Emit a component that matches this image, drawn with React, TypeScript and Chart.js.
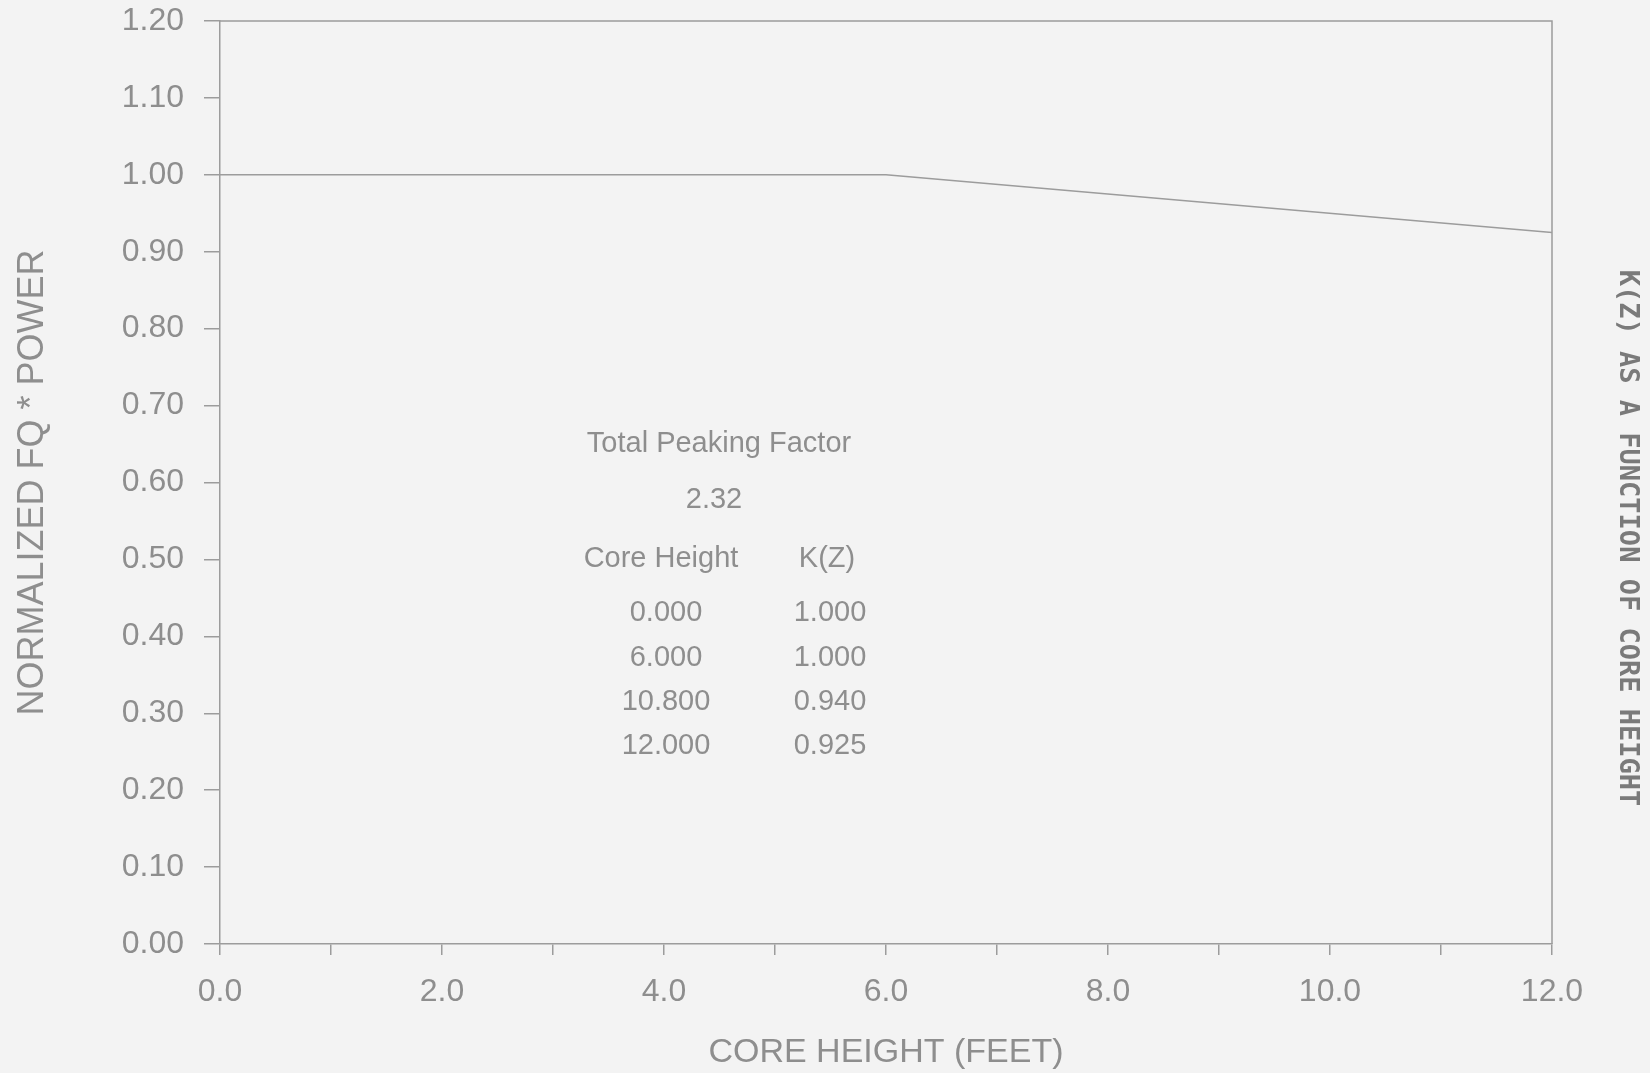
import React, { useEffect, useRef } from "react";
import { Chart, registerables } from "chart.js";

Chart.register(...registerables);

// Data
const coreHeights = [0.0, 6.0, 10.8, 12.0];
const kzValues = [1.0, 1.0, 0.94, 0.925];
const totalPeakingFactor = "2.32";
const xTitle = "CORE HEIGHT (FEET)";
const yTitle = "NORMALIZED FQ * POWER";
const sideTitle = "K(Z) AS A FUNCTION OF CORE HEIGHT";
const tableHeaders = ["Core Height", "K(Z)"];
const tableCoreHeights = ["0.000", "6.000", "10.800", "12.000"];
const tableKz = ["1.000", "1.000", "0.940", "0.925"];

const BG = "#f3f3f3";
const TEXT = "#8e8e8e";
const LINE = "#9c9c9c";
const FONT = "'Liberation Sans', Arial, sans-serif";

const overlayPlugin = {
  id: "overlay",
  beforeDraw(chart: any) {
    const { ctx } = chart;
    ctx.save();
    ctx.fillStyle = BG;
    ctx.fillRect(0, 0, chart.width, chart.height);
    ctx.restore();
  },
  afterDraw(chart: any) {
    const { ctx, chartArea } = chart;
    const { left, right, top, bottom } = chartArea;
    ctx.save();
    // frame
    ctx.strokeStyle = LINE;
    ctx.lineWidth = 1.5;
    ctx.beginPath();
    ctx.moveTo(left, top);
    ctx.lineTo(right, top);
    ctx.lineTo(right, bottom);
    ctx.stroke();

    // side title
    ctx.save();
    ctx.translate(1627, 538);
    ctx.rotate(Math.PI / 2);
    ctx.fillStyle = "#7a7a7a";
    ctx.font = "bold 27px 'DejaVu Sans Mono', 'Liberation Mono', monospace";
    ctx.textAlign = "center";
    ctx.textBaseline = "middle";
    ctx.fillText(sideTitle, 0, 0);
    ctx.restore();

    // table annotation
    ctx.fillStyle = TEXT;
    ctx.font = `29px ${FONT}`;
    ctx.textAlign = "center";
    ctx.textBaseline = "middle";
    ctx.fillText("Total Peaking Factor", 719, 444);
    ctx.fillText(totalPeakingFactor, 714, 500);
    ctx.fillText(tableHeaders[0], 661, 559);
    ctx.fillText(tableHeaders[1], 827, 559);
    const rowY = [613, 658, 702, 746];
    tableCoreHeights.forEach((t, i) => {
      ctx.fillText(t, 666, rowY[i]);
      ctx.fillText(tableKz[i], 830, rowY[i]);
    });
    ctx.restore();
  },
};

export default function App() {
  const ref = useRef<HTMLCanvasElement | null>(null);

  useEffect(() => {
    document.body.style.margin = "0";
    document.body.style.background = BG;
    const canvas = ref.current;
    if (!canvas) return;
    const chart = new Chart(canvas, {
      type: "line",
      data: {
        datasets: [
          {
            data: coreHeights.map((x, i) => ({ x, y: kzValues[i] })),
            borderColor: LINE,
            borderWidth: 1.5,
            pointRadius: 0,
            tension: 0,
            fill: false,
          },
        ],
      },
      options: {
        animation: false,
        responsive: false,
        maintainAspectRatio: false,
        layout: { padding: { left: 0, top: 21, right: 98, bottom: 0 } },
        plugins: { legend: { display: false }, tooltip: { enabled: false } },
        scales: {
          x: {
            type: "linear",
            min: 0,
            max: 12,
            afterFit: (s: any) => {
              s.height = 129;
              s.paddingLeft = 0;
              s.paddingRight = 0;
            },
            ticks: {
              stepSize: 1,
              autoSkip: false,
              maxRotation: 0,
              color: TEXT,
              font: { family: FONT, size: 32 },
              padding: 18,
              callback: (v: any) => (Number(v) % 2 === 0 ? Number(v).toFixed(1) : ""),
            },
            grid: {
              drawOnChartArea: false,
              drawTicks: true,
              tickLength: 11,
              color: LINE,
              lineWidth: 1.5,
            },
            border: { display: true, color: LINE, width: 1.5 },
            title: {
              display: true,
              text: xTitle,
              color: TEXT,
              font: { family: FONT, size: 34 },
              padding: { top: 0, bottom: 0 },
            },
          },
          y: {
            type: "linear",
            min: 0,
            max: 1.2,
            afterFit: (s: any) => {
              s.width = 220;
              s.paddingTop = 0;
              s.paddingBottom = 0;
            },
            ticks: {
              stepSize: 0.1,
              autoSkip: false,
              color: TEXT,
              font: { family: FONT, size: 32 },
              padding: 20,
              callback: (v: any) => Number(v).toFixed(2),
            },
            grid: {
              drawOnChartArea: false,
              drawTicks: true,
              tickLength: 16,
              color: LINE,
              lineWidth: 1.5,
            },
            border: { display: true, color: LINE, width: 1.5 },
            title: {
              display: true,
              text: yTitle,
              color: TEXT,
              font: { family: FONT, size: 36 },
              padding: { top: 11, bottom: 0 },
            },
          },
        },
      },
      plugins: [overlayPlugin],
    });
    return () => chart.destroy();
  }, []);

  return (
    <div style={{ width: 1650, height: 1073 }}>
      <canvas ref={ref} width={1650} height={1073} style={{ display: "block" }} />
    </div>
  );
}
